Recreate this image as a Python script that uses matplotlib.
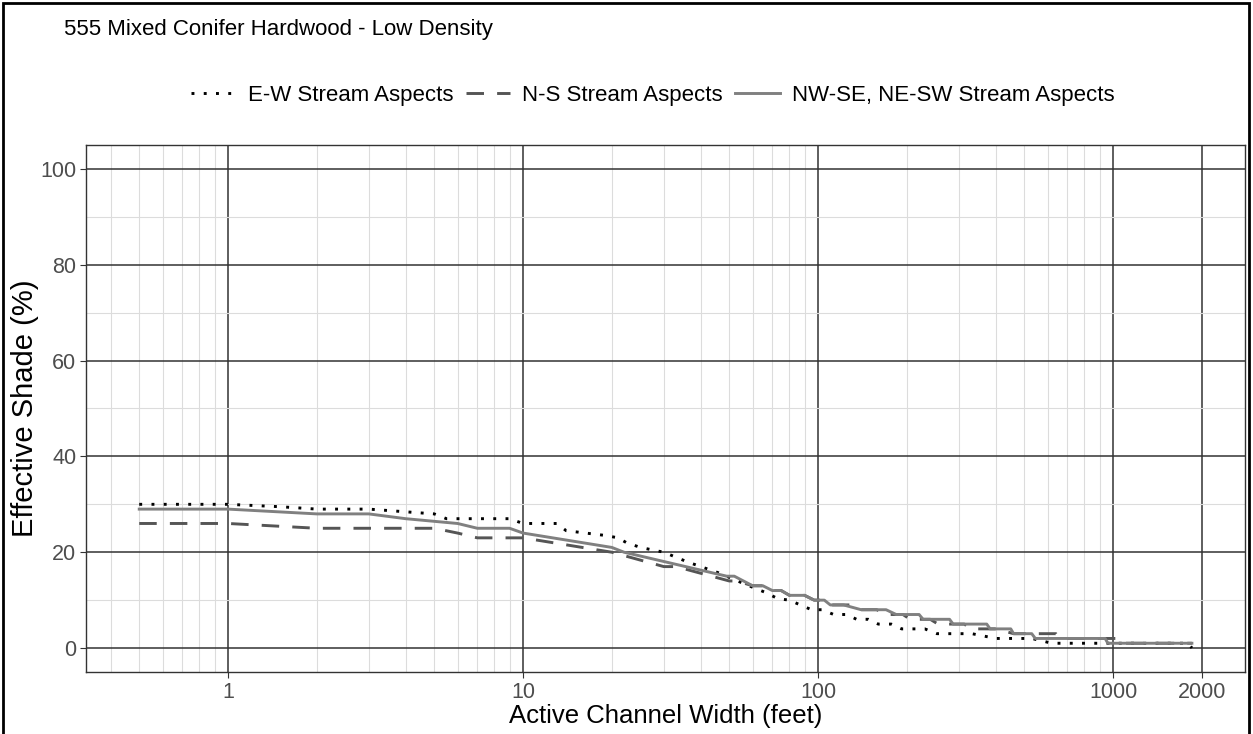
import matplotlib.pyplot as plt
from matplotlib.patches import Rectangle
from matplotlib.ticker import FixedLocator, NullFormatter

plt.rcParams['font.family'] = ['Liberation Sans', 'DejaVu Sans']

title = "555 Mixed Conifer Hardwood - Low Density"

# E-W stream aspects (dotted)
x_ew = [0.5, 1, 1.5, 2, 3, 5, 5.5, 9, 10, 13, 14, 19, 21, 22.4, 25, 30, 36, 40, 47, 51,
        61, 67, 73, 80, 87, 95, 103, 113, 125, 135, 148, 160, 177, 192, 230, 253, 332,
        401, 530, 620, 1800, 1850]
y_ew = [30, 30, 29.5, 29, 29, 28, 27, 27, 26, 26, 24.5, 23.5, 23, 22, 21, 20, 18, 17, 15.5, 14.5,
        12.5, 11.5, 10.3, 10, 9, 8, 8, 7, 7, 6, 6, 5, 5, 4, 4, 3, 3,
        2, 2, 1, 1, 0]

# N-S stream aspects (dashed)
x_ns = [0.5, 1, 2, 5, 6, 7, 10, 20, 30, 33, 50, 53, 60, 65, 70, 75, 80, 90, 97, 105,
        112, 131, 140, 158, 170, 194, 205, 240, 255, 313, 330, 402, 460, 640, 660, 1030,
        1060, 1850]
y_ns = [26, 26, 25, 25, 24, 23, 23, 20, 17, 17, 14, 14, 13, 13, 12, 12, 11, 11, 10, 10,
        9, 9, 8, 8, 7, 7, 6, 6, 5, 5, 4, 4, 3, 3, 2, 2,
        1, 1]

# NW-SE, NE-SW stream aspects (solid)
x_nw = [0.5, 1, 2, 3, 4, 6, 7, 9, 10, 20, 22, 49, 52, 60, 65, 70, 75, 80, 90, 97, 105,
        110, 122, 140, 170, 184, 220, 227, 279, 287, 373, 383, 450, 460, 530, 545, 940,
        960, 1850]
y_nw = [29, 29, 28, 28, 27, 26, 25, 25, 24, 21, 20, 15, 15, 13, 13, 12, 12, 11, 11, 10, 10,
        9, 9, 8, 8, 7, 7, 6, 6, 5, 5, 4, 4, 3, 3, 2, 2,
        1, 1]

x_major = [1, 10, 100, 1000, 2000]
x_labels = ["1", "10", "100", "1000", "2000"]
x_minor = [m * d for d in [0.1, 1, 10, 100, 1000] for m in range(2, 10)]
y_major = [0, 20, 40, 60, 80, 100]
y_minor = [10, 30, 50, 70, 90]

fig = plt.figure(figsize=(12.53, 7.34), dpi=100)
ax = fig.add_axes([86 / 1253, 62 / 734, 1159 / 1253, 527 / 734])

ax.plot(x_ew, y_ew, color='black', lw=2.1, linestyle=(0, (1, 3.2)),
        label="E-W Stream Aspects", zorder=3)
ax.plot(x_ns, y_ns, color='#555555', lw=2.1, linestyle=(0, (6, 4.5)),
        label="N-S Stream Aspects", zorder=3)
ax.plot(x_nw, y_nw, color='#808080', lw=2.1, linestyle='-',
        label="NW-SE, NE-SW Stream Aspects", zorder=3)

ax.set_xscale('log')
ax.set_xlim(0.33, 2800)
ax.set_ylim(-5, 105)
ax.xaxis.set_major_locator(FixedLocator(x_major))
ax.set_xticklabels(x_labels)
ax.xaxis.set_minor_locator(FixedLocator(x_minor))
ax.xaxis.set_minor_formatter(NullFormatter())
ax.set_yticks(y_major)
ax.set_yticks(y_minor, minor=True)

ax.grid(which='major', color='#333333', lw=1.1)
ax.grid(which='minor', color='#dcdcdc', lw=0.8)
ax.set_axisbelow(True)
ax.tick_params(which='major', length=4, width=0.8, color='#333333',
               labelsize=15.5, labelcolor='#4d4d4d', pad=3)
ax.tick_params(which='minor', length=0)
for s in ax.spines.values():
    s.set_color('#333333')
    s.set_linewidth(1.0)

ax.set_xlabel("Active Channel Width (feet)", fontsize=18.5, labelpad=1)
ax.set_ylabel("Effective Shade (%)", fontsize=21, labelpad=1)

fig.text(64 / 1253, 1 - 29 / 734, title, fontsize=16, ha='left', va='center')

fig.legend(loc='center', bbox_to_anchor=(653 / 1253, 1 - 95 / 734), ncol=3,
           frameon=False, fontsize=16, handlelength=2.0, columnspacing=0.55,
           handletextpad=0.55)

fig.add_artist(Rectangle((3 / 1253, -0.02), 1246 / 1253, 1.02 - 3 / 734,
                         transform=fig.transFigure, fill=False, lw=2,
                         edgecolor='black'))

fig.savefig("out.png", dpi=100)
